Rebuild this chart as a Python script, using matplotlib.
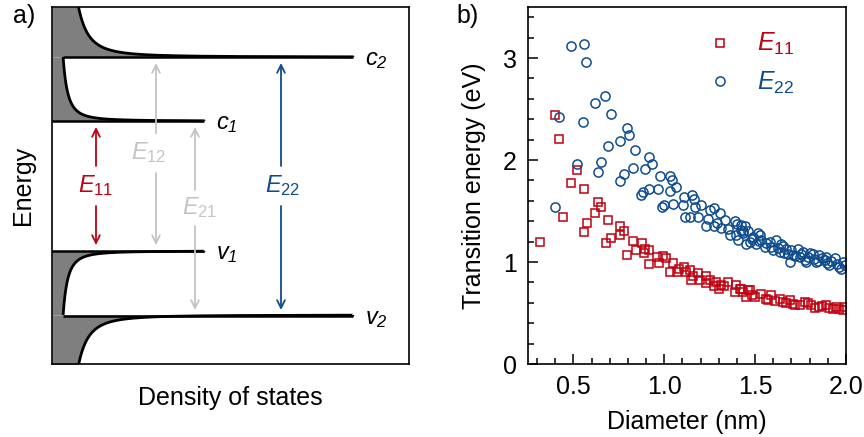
import numpy as np
import matplotlib
matplotlib.use("Agg")
import matplotlib.pyplot as plt

plt.rcParams['font.family'] = ['Liberation Sans', 'DejaVu Sans']
plt.rcParams['mathtext.fontset'] = 'custom'
plt.rcParams['mathtext.rm'] = 'Liberation Sans'
plt.rcParams['mathtext.it'] = 'Liberation Sans:italic'
# italic digits for the level subscripts (mathit keeps digits upright)
plt.rcParams['mathtext.sf'] = 'Liberation Sans:italic'
plt.rcParams['mathtext.default'] = 'rm'

RED = '#c00010'
BLUE = '#0f4c8e'
GRAY = '#c4c4c4'

# --- panel a: schematic levels (arbitrary energy units) ---
level_names = ['v_2', 'v_1', 'c_1', 'c_2']
level_E = [48, 113, 243, 307]
level_len = [301, 152, 152, 301]
e_top = 357

# transitions: name, x position, from level, to level, colour
trans_names = ['11', '12', '21', '22']
trans_x = [44, 104, 143, 229]
trans_from = [1, 1, 0, 0]   # valence level index
trans_to = [2, 3, 2, 3]     # conduction level index
trans_label_y = [178, 211, 156, 178]
trans_label_dx = [0, -7, 5, 2]
trans_gap = [20, 20, 18, 20]
trans_col = [RED, GRAY, GRAY, BLUE]

# --- panel b: transition energies vs diameter ---
d11 = [0.316, 0.397, 0.419, 0.444, 0.485, 0.521, 0.556, 0.556, 0.572, 0.620,
       0.635, 0.651, 0.679, 0.693, 0.706, 0.755, 0.759, 0.779, 0.796, 0.829,
       0.842, 0.875, 0.887, 0.893, 0.917, 0.917, 0.960, 0.971, 0.993, 1.012,
       1.030, 1.048, 1.072, 1.109, 1.118, 1.140, 1.148, 1.186, 1.195, 1.232,
       1.254, 1.272, 1.287, 1.314, 1.351, 1.387, 1.397, 1.415, 1.424, 1.433,
       1.451, 1.459, 1.470, 1.497, 1.534, 1.570, 1.589, 1.635, 1.653, 1.690,
       1.708, 1.745, 1.772, 1.809, 1.854, 1.891, 1.909, 1.946, 1.983, 1.230,
       1.300, 1.560, 1.720, 1.870, 1.960, 1.080, 1.160, 1.330, 1.480, 1.610,
       1.670, 1.790, 1.830, 1.930, 1.995]
e11 = [1.20, 2.44, 2.21, 1.44, 1.77, 1.90, 1.72, 1.29, 1.38, 1.48,
       1.59, 1.54, 1.19, 1.41, 1.24, 1.26, 1.35, 1.30, 1.07, 1.21,
       1.12, 1.19, 1.09, 1.13, 1.12, 0.98, 1.05, 0.99, 1.06, 1.04,
       0.90, 0.99, 0.90, 0.95, 0.90, 0.92, 0.82, 0.89, 0.82, 0.86,
       0.82, 0.76, 0.80, 0.77, 0.80, 0.71, 0.77, 0.74, 0.74, 0.71,
       0.66, 0.73, 0.73, 0.66, 0.69, 0.63, 0.68, 0.64, 0.61, 0.63,
       0.59, 0.58, 0.61, 0.58, 0.56, 0.58, 0.55, 0.56, 0.53, 0.79,
       0.74, 0.64, 0.58, 0.57, 0.54, 0.93, 0.86, 0.76, 0.68, 0.62,
       0.60, 0.60, 0.55, 0.54, 0.56]

d22 = [0.397, 0.420, 0.485, 0.519, 0.554, 0.556, 0.570, 0.620, 0.635, 0.651,
       0.675, 0.691, 0.706, 0.755, 0.757, 0.779, 0.794, 0.805, 0.829, 0.838,
       0.873, 0.884, 0.893, 0.915, 0.915, 0.933, 0.966, 0.975, 0.990, 0.999,
       1.029, 1.030, 1.041, 1.048, 1.067, 1.103, 1.109, 1.113, 1.140, 1.153,
       1.164, 1.168, 1.186, 1.201, 1.232, 1.241, 1.254, 1.272, 1.272, 1.305,
       1.314, 1.332, 1.360, 1.387, 1.397, 1.400, 1.403, 1.424, 1.433, 1.433,
       1.442, 1.451, 1.460, 1.470, 1.488, 1.506, 1.515, 1.534, 1.552, 1.580,
       1.598, 1.617, 1.635, 1.644, 1.672, 1.690, 1.708, 1.735, 1.745, 1.763,
       1.790, 1.818, 1.836, 1.854, 1.882, 1.909, 1.937, 1.964, 1.983, 1.995,
       1.350, 1.420, 1.480, 1.525, 1.560, 1.590, 1.625, 1.655, 1.680, 1.700,
       1.720, 1.755, 1.775, 1.800, 1.825, 1.845, 1.870, 1.895, 1.920, 1.950,
       1.975, 1.290, 1.520, 1.660, 1.780, 1.890]
e22 = [1.54, 2.42, 3.12, 1.96, 2.37, 3.14, 2.96, 2.56, 1.88, 1.98,
       2.63, 2.14, 2.45, 1.79, 2.19, 1.86, 2.31, 2.25, 1.92, 2.10,
       1.66, 1.69, 1.91, 2.03, 1.72, 1.96, 1.72, 1.84, 1.54, 1.56,
       1.84, 1.70, 1.80, 1.57, 1.74, 1.56, 1.64, 1.44, 1.44, 1.66,
       1.62, 1.54, 1.44, 1.56, 1.35, 1.42, 1.51, 1.53, 1.35, 1.48,
       1.33, 1.41, 1.26, 1.40, 1.26, 1.37, 1.22, 1.36, 1.28, 1.30,
       1.35, 1.18, 1.30, 1.20, 1.25, 1.18, 1.28, 1.22, 1.15, 1.20,
       1.12, 1.22, 1.10, 1.18, 1.13, 1.00, 1.07, 1.13, 1.05, 1.10,
       1.05, 1.08, 1.00, 1.07, 1.02, 0.97, 1.04, 0.95, 1.00, 0.97,
       1.32, 1.31, 1.23, 1.26, 1.19, 1.15, 1.14, 1.16, 1.08, 1.12,
       1.06, 1.08, 1.02, 1.09, 1.03, 1.01, 1.04, 0.99, 1.01, 0.98,
       0.93, 1.38, 1.21, 1.09, 1.00, 1.05]


def dos_band(E, e1, e2, a=73.0, b=125.0, base=2.0):
    # 1D density of states with van Hove peaks at e1 and e2
    d = base + a / np.sqrt(np.clip(E - e1, 1e-6, None))
    d = d + np.where(E > e2, b / np.sqrt(np.clip(E - e2, 1e-6, None)), 0.0)
    return d


fig = plt.figure(figsize=(8.64, 4.37), dpi=100)
axa = fig.add_axes([52 / 864, 1 - 364 / 437, 357 / 864, 357 / 437])
axb = fig.add_axes([528 / 864, 1 - 364 / 437, 318 / 864, 357 / 437])

# ---------- panel a ----------
v2, v1, c1, c2 = level_E
mid = (v1 + c1) / 2.0
segs = [(c1, c2, level_len[2]), (c2, e_top, level_len[3])]
for lo, hi, cap in segs:
    E = np.linspace(lo + 1e-3, hi, 600)
    D = np.minimum(dos_band(E, c1, c2), cap)
    axa.fill_betweenx(E, 0, D, color='#7f7f7f', lw=0)
    axa.plot(D, E, color='k', lw=2.0, solid_capstyle='butt')
    # mirrored valence band
    Ev = 2 * mid - E
    axa.fill_betweenx(Ev, 0, D, color='#7f7f7f', lw=0)
    axa.plot(D, Ev, color='k', lw=2.0, solid_capstyle='butt')

d_c2_left = float(dos_band(np.array([c2 - 1e-3]), c1, c2)[0])
for name, e, ln in zip(level_names, level_E, level_len):
    x0 = d_c2_left if ln > 200 else 0
    axa.plot([x0, ln], [e, e], color='k', lw=1.8, solid_capstyle='butt')
    sub = name.split('_')[1]
    axa.text(ln + 12, e - 3, r'$\mathit{%s}_{\mathsf{%s}}$' % (name[0], sub),
             fontsize=17, ha='left', va='center')

for name, x, i0, i1, ly, dx, gap, col in zip(trans_names, trans_x, trans_from, trans_to,
                                           trans_label_y, trans_label_dx, trans_gap, trans_col):
    lo = level_E[i0] + 6
    hi = level_E[i1] - 6
    ap = dict(arrowstyle='->', color=col, lw=1.3, mutation_scale=14, shrinkA=0, shrinkB=0)
    axa.annotate('', xy=(x, hi), xytext=(x, ly + gap), arrowprops=ap)
    axa.annotate('', xy=(x, lo), xytext=(x, ly - gap), arrowprops=ap)
    axa.text(x + dx, ly, r'$\mathit{E}_{%s}$' % name, color=col, fontsize=17,
             ha='center', va='center')

axa.set_xlim(0, 357)
axa.set_ylim(0, e_top)
axa.set_xticks([])
axa.set_yticks([])
for s in axa.spines.values():
    s.set_linewidth(1.2)
axa.set_xlabel('Density of states', fontsize=18, labelpad=16)
axa.set_ylabel('Energy', fontsize=18, labelpad=12)

# ---------- panel b ----------
axb.plot(d11, e11, ls='none', marker='s', ms=5.6, mfc='none', mec=RED, mew=1.1,
         label=r'$\mathit{E}_{11}$')
axb.plot(d22, e22, ls='none', marker='o', ms=6.6, mfc='none', mec=BLUE, mew=1.1,
         label=r'$\mathit{E}_{22}$')
axb.set_xlim(0.25, 2.0)
axb.set_ylim(0, 3.5)
axb.set_xticks([0.5, 1.0, 1.5, 2.0])
axb.set_xticklabels(['0.5', '1.0', '1.5', '2.0'])
axb.set_xticks(np.arange(0.3, 2.0, 0.1), minor=True)
axb.set_yticks([0, 1, 2, 3])
axb.set_yticks(np.arange(0.2, 3.5, 0.2), minor=True)
axb.tick_params(which='both', direction='in', top=False, right=False, labelsize=18, width=1.1)
axb.tick_params(which='major', length=7, pad=8)
axb.tick_params(which='minor', length=4)
for s in axb.spines.values():
    s.set_linewidth(1.2)
axb.set_xlabel('Diameter (nm)', fontsize=18, labelpad=8)
axb.set_ylabel('Transition energy (eV)', fontsize=18, labelpad=12)
leg = axb.legend(loc='upper right', frameon=False, fontsize=18, labelcolor='markeredgecolor',
                 handletextpad=1.0, labelspacing=0.5, borderaxespad=0.0,
                 bbox_to_anchor=(0.87, 0.96), handlelength=1.0)

fig.text(13 / 864, 1 - 4 / 437, 'a)', fontsize=18, ha='left', va='top')
fig.text(456 / 864, 1 - 4 / 437, 'b)', fontsize=18, ha='left', va='top')

fig.savefig('out.png', dpi=100)
